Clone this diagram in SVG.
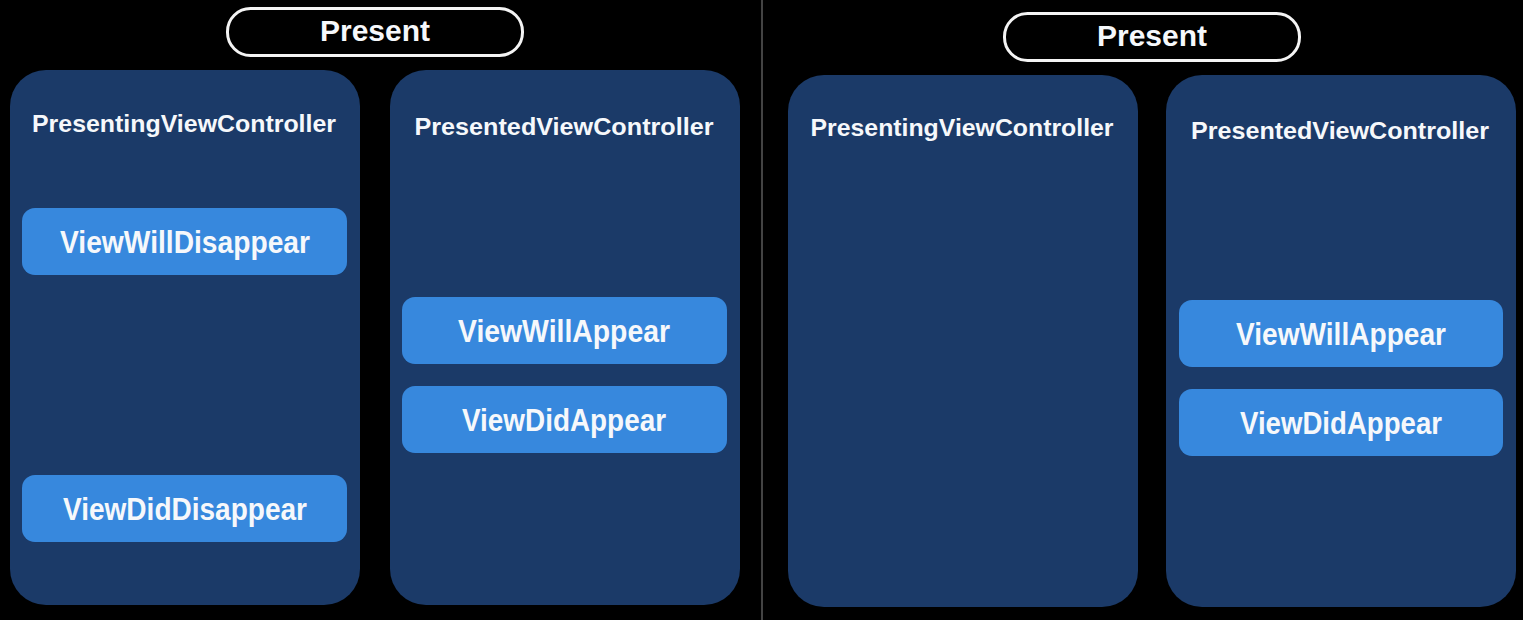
<svg xmlns="http://www.w3.org/2000/svg" width="1523" height="620" viewBox="0 0 1523 620">
<style>
.bg{fill:#000}
.panel{fill:#1b3a68}
.pill{fill:#000;stroke:#f4f4f4;stroke-width:3}
.btn{fill:#3788dd}
text{font-family:"Liberation Sans",Arial,sans-serif;font-weight:bold;fill:#f6f8fb;text-anchor:middle}
.t1{font-size:29px}
.t2{font-size:24px}
.t3{font-size:32px}
</style>
<rect class="bg" x="0" y="0" width="1523" height="620"/>
<line x1="762" y1="0" x2="762" y2="620" stroke="#5a5a5a" stroke-width="1.5"/>
<g id="present-left">
<rect class="pill" x="227.5" y="8.5" width="295" height="47" rx="23"/>
<text class="t1" x="375" y="41" textLength="110" lengthAdjust="spacingAndGlyphs">Present</text>
</g>
<g id="present-right">
<rect class="pill" x="1004.5" y="13.5" width="295" height="47" rx="23"/>
<text class="t1" x="1152" y="46" textLength="110" lengthAdjust="spacingAndGlyphs">Present</text>
</g>
<g id="presenting-left">
<rect class="panel" x="10" y="70" width="350" height="535" rx="36"/>
<text class="t2" x="184" y="132" textLength="304" lengthAdjust="spacingAndGlyphs">PresentingViewController</text>
</g>
<g id="presented-left">
<rect class="panel" x="390" y="70" width="350" height="535" rx="36"/>
<text class="t2" x="564" y="135" textLength="299" lengthAdjust="spacingAndGlyphs">PresentedViewController</text>
</g>
<g id="presenting-right">
<rect class="panel" x="788" y="75" width="350" height="532" rx="36"/>
<text class="t2" x="962" y="136" textLength="303" lengthAdjust="spacingAndGlyphs">PresentingViewController</text>
</g>
<g id="presented-right">
<rect class="panel" x="1166" y="75" width="350" height="532" rx="36"/>
<text class="t2" x="1340" y="139" textLength="298" lengthAdjust="spacingAndGlyphs">PresentedViewController</text>
</g>
<g id="viewWillDisappear-left">
<rect class="btn" x="22" y="208" width="325" height="67" rx="13"/>
<text class="t3" x="185" y="253" textLength="250" lengthAdjust="spacingAndGlyphs">ViewWillDisappear</text>
</g>
<g id="viewDidDisappear-left">
<rect class="btn" x="22" y="475" width="325" height="67" rx="13"/>
<text class="t3" x="185" y="520" textLength="244" lengthAdjust="spacingAndGlyphs">ViewDidDisappear</text>
</g>
<g id="viewWillAppear-left">
<rect class="btn" x="402" y="297" width="325" height="67" rx="13"/>
<text class="t3" x="564" y="342" textLength="212" lengthAdjust="spacingAndGlyphs">ViewWillAppear</text>
</g>
<g id="viewDidAppear-left">
<rect class="btn" x="402" y="386" width="325" height="67" rx="13"/>
<text class="t3" x="564" y="431" textLength="204" lengthAdjust="spacingAndGlyphs">ViewDidAppear</text>
</g>
<g id="viewWillAppear-right">
<rect class="btn" x="1179" y="300" width="324" height="67" rx="13"/>
<text class="t3" x="1341" y="345" textLength="210" lengthAdjust="spacingAndGlyphs">ViewWillAppear</text>
</g>
<g id="viewDidAppear-right">
<rect class="btn" x="1179" y="389" width="324" height="67" rx="13"/>
<text class="t3" x="1341" y="434" textLength="202" lengthAdjust="spacingAndGlyphs">ViewDidAppear</text>
</g>
<g id="connectors"></g>
</svg>
